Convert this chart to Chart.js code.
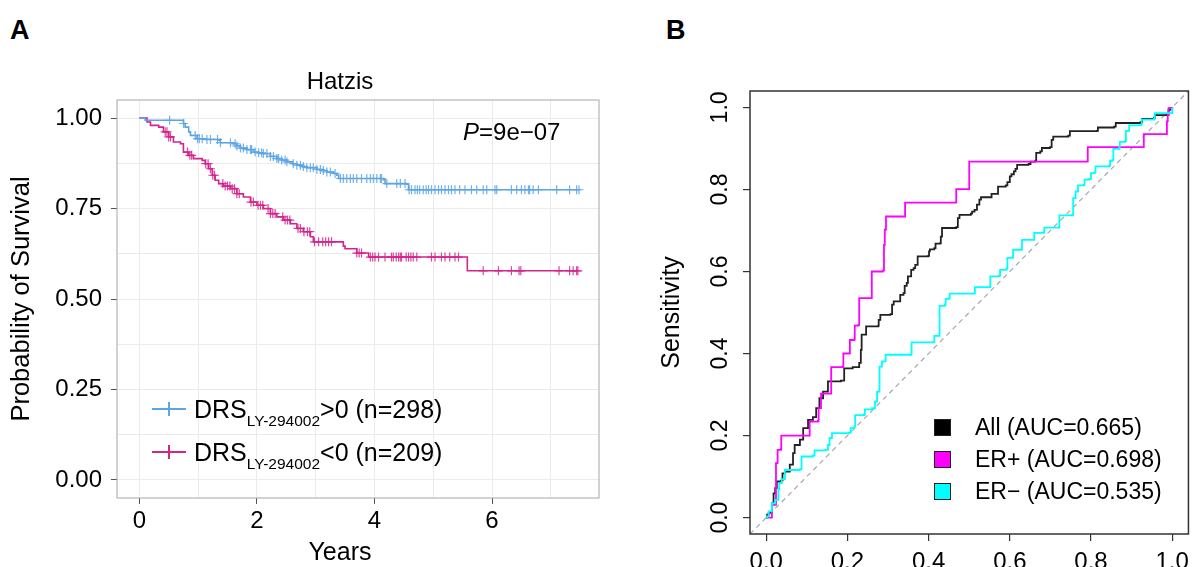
<!DOCTYPE html>
<html>
<head>
<meta charset="utf-8">
<script src="https://cdn.jsdelivr.net/npm/chart.js@4.4.1/dist/chart.umd.min.js"></script>
<style>
  html, body { margin:0; padding:0; background:#fff; overflow:hidden; width:1196px; height:567px;
    font-family:"Liberation Sans", Arial, Helvetica, sans-serif; color:#000; }
  #wrapA { position:absolute; left:0; top:0; width:620px; height:567px; }
  #wrapB { position:absolute; left:640px; top:0; width:556px; height:600px; }
  .letter { position:absolute; font-weight:bold; font-size:27px; line-height:27px; }
  .ctitle { position:absolute; width:200px; text-align:center; white-space:nowrap; }
  .kmleg { position:absolute; left:152px; font-size:25px; line-height:30px; white-space:nowrap; }
  .kmleg .sym { display:inline-block; position:relative; width:34px; height:30px; vertical-align:top; margin-right:8px; }
  .kmleg .sym .h { position:absolute; left:0; top:14px; width:34px; height:1.5px; }
  .kmleg .sym .v { position:absolute; left:16px; top:8px; width:1.5px; height:14px; }
  .kmleg .sub { font-size:15.5px; vertical-align:-8px; }
  .pval { position:absolute; left:463px; top:117px; font-size:24px; line-height:30px; }
  .rocleg { position:absolute; left:934px; font-size:23px; line-height:28px; white-space:nowrap; }
  .rocleg .sq { display:inline-block; width:15px; height:15px; border:1px solid #222; vertical-align:-1px; margin-right:24px; }
</style>
</head>
<body>
<div class="letter" style="left:10px;top:17px;">A</div>
<div class="letter" style="left:666px;top:17px;">B</div>
<div id="wrapA"><canvas id="km" width="620" height="567"></canvas></div>
<div id="wrapB"><canvas id="roc" width="556" height="600"></canvas></div>

<div id="kmTitle" class="ctitle" style="left:240px;top:66px;font-size:24px;line-height:29px;"></div>
<div id="kmXTitle" class="ctitle" style="left:240px;top:536px;font-size:25px;line-height:30px;"></div>

<div class="pval"><i>P</i>=9e−07</div>
<div class="kmleg" style="top:394px;"><span class="sym"><span class="h" style="background:#5aa5e6"></span><span class="v" style="background:#5aa5e6"></span></span>DRS<span class="sub">LY-294002</span>&gt;0 (n=298)</div>
<div class="kmleg" style="top:437px;"><span class="sym"><span class="h" style="background:#d3248c"></span><span class="v" style="background:#d3248c"></span></span>DRS<span class="sub">LY-294002</span>&lt;0 (n=209)</div>

<div class="rocleg" style="top:413px;"><span class="sq" style="background:#000"></span>All (AUC=0.665)</div>
<div class="rocleg" style="top:445px;"><span class="sq" style="background:#ff00ff"></span>ER+ (AUC=0.698)</div>
<div class="rocleg" style="top:477px;"><span class="sq" style="background:#00ffff"></span>ER− (AUC=0.535)</div>

<script>
// ---------------- Panel A: Kaplan-Meier (Hatzis) ----------------
const kmTitle = 'Hatzis';
const kmXLabel = 'Years';
const kmYLabel = 'Probability of Survival';
const kmXTicks = [0, 2, 4, 6];
const kmYTicks = [0, 0.25, 0.5, 0.75, 1];

const blueTimes = [0, 0.10, 0.75, 0.78, 0.84, 0.87, 0.98, 1.10, 1.35, 1.38, 1.60, 1.66, 1.72, 1.83, 1.94, 2.03, 2.11, 2.23, 2.34, 2.42, 2.51, 2.60, 2.68, 2.77, 2.85, 3.02, 3.10, 3.19, 3.30, 3.36, 3.39, 4.15, 4.18, 4.55, 4.58];
const blueSurv  = [1, 0.994, 0.985, 0.975, 0.962, 0.952, 0.943, 0.941, 0.939, 0.932, 0.929, 0.923, 0.917, 0.913, 0.906, 0.904, 0.902, 0.894, 0.888, 0.884, 0.879, 0.874, 0.870, 0.866, 0.863, 0.858, 0.855, 0.851, 0.847, 0.842, 0.833, 0.830, 0.819, 0.817, 0.802];
const blueEnd = 7.48;
const blueCensor = [0.515, 0.753, 0.95, 0.99, 1.02, 1.07, 1.15, 1.21, 1.33, 1.38, 1.55, 1.63, 1.66, 1.72, 1.77, 1.83, 1.89, 1.91, 1.97, 2.03, 2.08, 2.11, 2.17, 2.23, 2.28, 2.34, 2.37, 2.42, 2.48, 2.51, 2.62, 2.68, 2.74, 2.79, 2.85, 2.91, 2.96, 3.02, 3.08, 3.13, 3.19, 3.25, 3.33, 3.42, 3.47, 3.53, 3.59, 3.64, 3.70, 3.78, 3.87, 3.93, 3.98, 4.04, 4.10, 4.12, 4.21, 4.38, 4.44, 4.52, 4.59, 4.63, 4.69, 4.73, 4.77, 4.83, 4.88, 4.92, 4.97, 5.03, 5.09, 5.14, 5.20, 5.26, 5.31, 5.37, 5.45, 5.54, 5.65, 5.74, 5.85, 5.91, 6.05, 6.08, 6.33, 6.42, 6.50, 6.56, 6.62, 6.64, 6.70, 6.79, 7.10, 7.32, 7.44, 7.48];

const pinkTimes = [0, 0.13, 0.19, 0.33, 0.41, 0.50, 0.58, 0.70, 0.75, 0.84, 0.92, 1.07, 1.12, 1.18, 1.24, 1.29, 1.35, 1.43, 1.55, 1.66, 1.77, 1.89, 2.00, 2.11, 2.23, 2.34, 2.45, 2.57, 2.68, 2.79, 2.91, 2.96, 3.47, 3.50, 3.70, 3.90, 5.58];
const pinkSurv  = [1, 0.989, 0.980, 0.975, 0.962, 0.948, 0.934, 0.929, 0.906, 0.897, 0.888, 0.883, 0.874, 0.860, 0.842, 0.828, 0.819, 0.812, 0.805, 0.791, 0.782, 0.768, 0.759, 0.750, 0.736, 0.727, 0.718, 0.708, 0.695, 0.686, 0.672, 0.658, 0.646, 0.639, 0.627, 0.616, 0.578];
const pinkEnd = 7.46;
const pinkCensor = [0.44, 0.47, 0.50, 0.53, 0.82, 0.86, 0.89, 1.13, 1.17, 1.21, 1.25, 1.28, 1.42, 1.46, 1.50, 1.54, 1.58, 1.62, 1.66, 1.70, 1.90, 1.94, 2.02, 2.06, 2.10, 2.19, 2.23, 2.27, 2.31, 2.44, 2.48, 2.52, 2.56, 2.70, 2.74, 2.80, 2.86, 2.90, 2.98, 3.05, 3.12, 3.17, 3.22, 3.27, 3.70, 3.74, 3.78, 3.93, 3.97, 4.01, 4.07, 4.18, 4.29, 4.32, 4.37, 4.41, 4.44, 4.46, 4.54, 4.58, 4.62, 4.66, 4.72, 4.97, 5.03, 5.14, 5.20, 5.28, 5.37, 5.43, 5.85, 6.11, 6.33, 6.46, 6.49, 7.14, 7.32, 7.38, 7.44, 7.46];

// ---------------- Panel B: ROC curves ----------------
const rocYLabel = 'Sensitivity';
const rocTicks = [0, 0.2, 0.4, 0.6, 0.8, 1.0];
const diagX = [-0.04, 1.04];
const diagY = [-0.04, 1.04];

const rocAllFpr = [0, 0.002, 0.006, 0.014, 0.018, 0.022, 0.026, 0.036, 0.040, 0.046, 0.058, 0.066, 0.070, 0.083, 0.091, 0.103, 0.115, 0.123, 0.131, 0.140, 0.152, 0.184, 0.192, 0.213, 0.229, 0.233, 0.235, 0.246, 0.276, 0.277, 0.281, 0.306, 0.310, 0.314, 0.330, 0.330, 0.338, 0.341, 0.346, 0.349, 0.357, 0.363, 0.367, 0.373, 0.399, 0.401, 0.403, 0.414, 0.417, 0.429, 0.430, 0.433, 0.468, 0.472, 0.476, 0.504, 0.507, 0.513, 0.519, 0.525, 0.529, 0.555, 0.571, 0.590, 0.594, 0.600, 0.604, 0.610, 0.614, 0.618, 0.646, 0.651, 0.663, 0.665, 0.675, 0.679, 0.699, 0.703, 0.707, 0.744, 0.748, 0.814, 0.817, 0.857, 0.861, 0.922, 0.926, 0.955, 0.957, 0.987, 0.991, 0.995, 1.0];
const rocAllTpr = [0, 0.007, 0.012, 0.035, 0.059, 0.072, 0.088, 0.090, 0.108, 0.112, 0.129, 0.157, 0.177, 0.190, 0.218, 0.238, 0.245, 0.267, 0.291, 0.307, 0.332, 0.334, 0.364, 0.367, 0.377, 0.409, 0.446, 0.466, 0.468, 0.482, 0.494, 0.496, 0.519, 0.527, 0.529, 0.543, 0.547, 0.565, 0.572, 0.588, 0.604, 0.608, 0.616, 0.637, 0.638, 0.649, 0.654, 0.657, 0.668, 0.669, 0.685, 0.706, 0.708, 0.730, 0.738, 0.741, 0.746, 0.750, 0.763, 0.775, 0.781, 0.789, 0.807, 0.810, 0.818, 0.832, 0.837, 0.844, 0.850, 0.860, 0.862, 0.868, 0.870, 0.889, 0.893, 0.901, 0.903, 0.921, 0.929, 0.931, 0.942, 0.943, 0.951, 0.953, 0.962, 0.964, 0.972, 0.974, 0.981, 0.982, 0.994, 0.998, 1.0];

const rocPosFpr = [0, 0.011, 0.014, 0.024, 0.024, 0.028, 0.036, 0.037, 0.106, 0.107, 0.127, 0.129, 0.135, 0.160, 0.160, 0.188, 0.190, 0.205, 0.206, 0.217, 0.218, 0.227, 0.229, 0.259, 0.260, 0.287, 0.290, 0.292, 0.295, 0.342, 0.342, 0.466, 0.468, 0.498, 0.500, 0.792, 0.792, 0.930, 0.930, 0.985, 0.987, 0.989, 0.991, 1.0];
const rocPosTpr = [0, 0, 0.031, 0.035, 0.133, 0.165, 0.167, 0.200, 0.200, 0.234, 0.236, 0.267, 0.302, 0.302, 0.367, 0.368, 0.400, 0.401, 0.433, 0.435, 0.468, 0.470, 0.535, 0.535, 0.600, 0.602, 0.665, 0.702, 0.734, 0.736, 0.768, 0.768, 0.801, 0.801, 0.868, 0.868, 0.903, 0.903, 0.935, 0.935, 0.966, 0.982, 0.998, 1.0];

const rocNegFpr = [0, 0.002, 0.006, 0.014, 0.022, 0.030, 0.032, 0.038, 0.046, 0.083, 0.087, 0.115, 0.119, 0.146, 0.152, 0.156, 0.162, 0.204, 0.208, 0.217, 0.219, 0.241, 0.243, 0.261, 0.268, 0.273, 0.279, 0.285, 0.294, 0.357, 0.358, 0.411, 0.414, 0.427, 0.427, 0.440, 0.442, 0.449, 0.452, 0.513, 0.514, 0.551, 0.552, 0.573, 0.576, 0.592, 0.594, 0.606, 0.608, 0.630, 0.630, 0.660, 0.660, 0.683, 0.685, 0.722, 0.722, 0.754, 0.756, 0.762, 0.768, 0.782, 0.784, 0.796, 0.800, 0.809, 0.811, 0.845, 0.847, 0.853, 0.855, 0.869, 0.871, 0.884, 0.886, 0.894, 0.922, 0.925, 0.955, 0.957, 1.0, 1.0];
const rocNegTpr = [0, 0.003, 0.015, 0.035, 0.043, 0.068, 0.084, 0.094, 0.116, 0.118, 0.149, 0.151, 0.164, 0.165, 0.177, 0.194, 0.206, 0.207, 0.218, 0.222, 0.250, 0.252, 0.264, 0.267, 0.283, 0.307, 0.368, 0.381, 0.397, 0.398, 0.427, 0.428, 0.443, 0.445, 0.516, 0.519, 0.533, 0.534, 0.546, 0.547, 0.562, 0.563, 0.588, 0.590, 0.604, 0.607, 0.633, 0.634, 0.653, 0.655, 0.677, 0.680, 0.694, 0.695, 0.707, 0.709, 0.737, 0.738, 0.779, 0.795, 0.810, 0.811, 0.824, 0.826, 0.840, 0.842, 0.856, 0.858, 0.870, 0.872, 0.899, 0.901, 0.916, 0.917, 0.943, 0.956, 0.958, 0.970, 0.972, 0.986, 0.989, 1.0];

// ---------------- helpers ----------------
Chart.defaults.font.family = "'Liberation Sans', Arial, Helvetica, sans-serif";
Chart.defaults.color = '#000';

document.getElementById('kmTitle').textContent = kmTitle;
document.getElementById('kmXTitle').textContent = kmXLabel;

function xy(xs, ys) { return xs.map((x, i) => ({ x: x, y: ys[i] })); }
function kmLine(times, surv, end) {
  return xy(times, surv).concat([{ x: end, y: surv[surv.length - 1] }]);
}
function survAt(times, surv, t) {
  let s = surv[0];
  for (let i = 0; i < times.length; i++) { if (times[i] <= t) s = surv[i]; else break; }
  return s;
}
function censorPts(times, surv, cens) {
  return cens.map(t => ({ x: t, y: survAt(times, surv, t) }));
}
function near(v, list) { return list.some(t => Math.abs(t - v) < 1e-6); }

const framePlugin = {
  id: 'frame',
  afterDatasetsDraw(chart, args, opts) {
    const a = chart.chartArea, ctx = chart.ctx;
    ctx.save();
    ctx.strokeStyle = opts.color;
    ctx.lineWidth = opts.width;
    ctx.strokeRect(a.left, a.top, a.right - a.left, a.bottom - a.top);
    ctx.restore();
  }
};

const BLUE = '#5aa5e6', PINK = '#d3248c';

// ---------------- Chart A ----------------
new Chart(document.getElementById('km'), {
  type: 'scatter',
  plugins: [framePlugin],
  data: {
    datasets: [
      { data: kmLine(blueTimes, blueSurv, blueEnd), showLine: true, stepped: 'before', borderColor: BLUE, borderWidth: 1.6, pointRadius: 0 },
      { data: kmLine(pinkTimes, pinkSurv, pinkEnd), showLine: true, stepped: 'before', borderColor: PINK, borderWidth: 1.6, pointRadius: 0 },
      { data: censorPts(blueTimes, blueSurv, blueCensor), showLine: false, pointStyle: 'cross', pointRadius: 4.5, borderColor: 'rgba(90,165,230,0.85)', borderWidth: 1.2, backgroundColor: 'transparent' },
      { data: censorPts(pinkTimes, pinkSurv, pinkCensor), showLine: false, pointStyle: 'cross', pointRadius: 4.5, borderColor: 'rgba(211,36,140,0.85)', borderWidth: 1.2, backgroundColor: 'transparent' }
    ]
  },
  options: {
    responsive: false, animation: false, events: [],
    layout: { padding: { left: 0, right: 21, top: 100, bottom: 0 } },
    plugins: {
      legend: { display: false }, tooltip: { enabled: false }, title: { display: false },
      frame: { color: '#a6a6a6', width: 1 }
    },
    scales: {
      x: {
        type: 'linear', min: -0.38, max: 7.82,
        afterFit: s => { s.height = 69; },
        ticks: { stepSize: 1, includeBounds: false, autoSkip: false, padding: 3, color: '#000', font: { size: 24 },
          callback: v => near(v, kmXTicks) ? String(v) : '' },
        grid: { color: '#ebebeb', lineWidth: 1, tickLength: 6,
          tickColor: c => near(c.tick.value, kmXTicks) ? '#555' : 'rgba(0,0,0,0)' },
        border: { display: false }
      },
      y: {
        type: 'linear', min: -0.05, max: 1.05,
        afterFit: s => { s.width = 117; },
        ticks: { stepSize: 0.125, includeBounds: false, autoSkip: false, padding: 9, color: '#000', font: { size: 24 },
          callback: v => near(v, kmYTicks) ? v.toFixed(2) : '' },
        grid: { color: '#ebebeb', lineWidth: 1, tickLength: 6,
          tickColor: c => near(c.tick.value, kmYTicks) ? '#555' : 'rgba(0,0,0,0)' },
        border: { display: false },
        title: { display: true, text: kmYLabel, color: '#000', font: { size: 25.5 }, padding: { top: 7, bottom: 0 } }
      }
    }
  }
});

// ---------------- Chart B ----------------
new Chart(document.getElementById('roc'), {
  type: 'scatter',
  plugins: [framePlugin],
  data: {
    datasets: [
      { data: xy(diagX, diagY), showLine: true, borderColor: '#a8a8a8', borderWidth: 1.2, borderDash: [5, 4], pointRadius: 0, order: 10 },
      { data: xy(rocAllFpr, rocAllTpr), showLine: true, stepped: 'before', borderColor: '#222', borderWidth: 1.8, pointRadius: 0, order: 3 },
      { data: xy(rocPosFpr, rocPosTpr), showLine: true, stepped: 'before', borderColor: '#ff00ff', borderWidth: 1.8, pointRadius: 0, order: 2 },
      { data: xy(rocNegFpr, rocNegTpr), showLine: true, stepped: 'before', borderColor: '#00ffff', borderWidth: 1.8, pointRadius: 0, order: 1 }
    ]
  },
  options: {
    responsive: false, animation: false, events: [],
    layout: { padding: { left: 0, right: 3, top: 91, bottom: 0 } },
    plugins: {
      legend: { display: false }, tooltip: { enabled: false },
      frame: { color: '#333', width: 1.5 }
    },
    scales: {
      x: {
        type: 'linear', min: -0.04, max: 1.04,
        afterFit: s => { s.height = 66; },
        ticks: { stepSize: 0.2, includeBounds: false, autoSkip: false, padding: 7, color: '#000', font: { size: 24 },
          callback: v => near(v, rocTicks) ? v.toFixed(1) : '' },
        grid: { drawOnChartArea: false, tickLength: 7, tickColor: '#333', lineWidth: 1.2 },
        border: { display: false }
      },
      y: {
        type: 'linear', min: -0.04, max: 1.04,
        afterFit: s => { s.width = 110; },
        ticks: { stepSize: 0.2, includeBounds: false, autoSkip: false, minRotation: 90, maxRotation: 90, crossAlign: 'center', padding: 6,
          color: '#000', font: { size: 23 },
          callback: v => near(v, rocTicks) ? v.toFixed(1) : '' },
        grid: { drawOnChartArea: false, tickLength: 7, tickColor: '#333', lineWidth: 1.2 },
        border: { display: false },
        title: { display: true, text: rocYLabel, color: '#000', font: { size: 25 }, padding: { top: 17, bottom: 0 } }
      }
    }
  }
});
</script>
</body>
</html>
